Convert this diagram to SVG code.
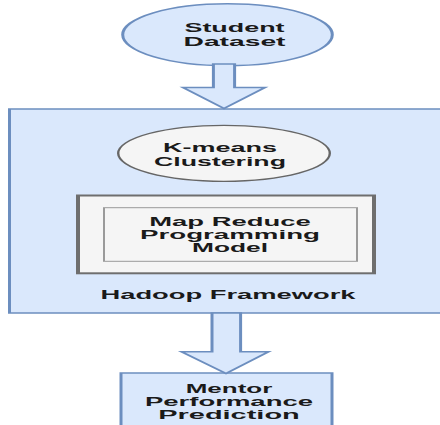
<svg xmlns="http://www.w3.org/2000/svg" width="440" height="425" viewBox="0 0 440 425">
  <style>
    .blue { fill: #dae8fc; stroke: #6c8ebf; stroke-width: 1.5; }
    .grey { fill: #f5f5f5; stroke: #666666; stroke-width: 1.2; }
    .frame { fill: #f5f5f5; stroke: #6e6e6e; stroke-width: 2; }
    .inner { fill: #f5f5f5; stroke: #9a9a9a; stroke-width: 1; }
    .label { font-family: "Liberation Sans", Arial, sans-serif; font-weight: bold; font-size: 12.5px; fill: #1a1a1a; text-anchor: middle; }
  </style>
  <rect width="440" height="425" fill="#ffffff"/>
  <!-- layout is drawn at half width and stretched horizontally -->
  <g transform="scale(2 1)">
    <g id="hadoop-framework">
      <rect class="blue" x="4.75" y="109" width="230" height="204"/>
      <text class="label" x="114" y="299.5" textLength="127.5" lengthAdjust="spacingAndGlyphs">Hadoop Framework</text>
    </g>
    <g id="student-dataset">
      <ellipse class="blue" cx="113.75" cy="34.7" rx="52.4" ry="31"/>
      <text class="label" x="117.25" y="32.5" textLength="50" lengthAdjust="spacingAndGlyphs">Student</text>
      <text class="label" x="117.25" y="46" textLength="51" lengthAdjust="spacingAndGlyphs">Dataset</text>
    </g>
    <g id="kmeans-clustering">
      <ellipse class="grey" cx="112" cy="153.3" rx="52.9" ry="28"/>
      <text class="label" x="110" y="152" textLength="57" lengthAdjust="spacingAndGlyphs">K-means</text>
      <text class="label" x="110" y="166.5" textLength="66" lengthAdjust="spacingAndGlyphs">Clustering</text>
    </g>
    <g id="map-reduce">
      <rect class="frame" x="39" y="195.5" width="148" height="77.8"/>
      <rect class="inner" x="52" y="207.7" width="126.5" height="53.6"/>
      <text class="label" x="115" y="226.5" textLength="80.8" lengthAdjust="spacingAndGlyphs">Map Reduce</text>
      <text class="label" x="115" y="239.3" textLength="90" lengthAdjust="spacingAndGlyphs">Programming</text>
      <text class="label" x="115" y="252" textLength="38" lengthAdjust="spacingAndGlyphs">Model</text>
    </g>
    <g id="mentor-prediction">
      <rect class="blue" x="60.5" y="373" width="105.5" height="70"/>
      <text class="label" x="114.5" y="393.3" textLength="43.3" lengthAdjust="spacingAndGlyphs">Mentor</text>
      <text class="label" x="114.5" y="406.2" textLength="84" lengthAdjust="spacingAndGlyphs">Performance</text>
      <text class="label" x="114.5" y="419.3" textLength="70.8" lengthAdjust="spacingAndGlyphs">Prediction</text>
    </g>
    <g id="connectors">
      <path class="blue" d="M106.7,64 V87.5 H91.5 L112,108.5 L132.5,87.5 H117.3 V64 Z"/>
      <path class="blue" d="M106,313 V351.7 H90.75 L113,373.5 L134.25,351.7 H120.3 V313 Z"/>
    </g>
  </g>
</svg>
